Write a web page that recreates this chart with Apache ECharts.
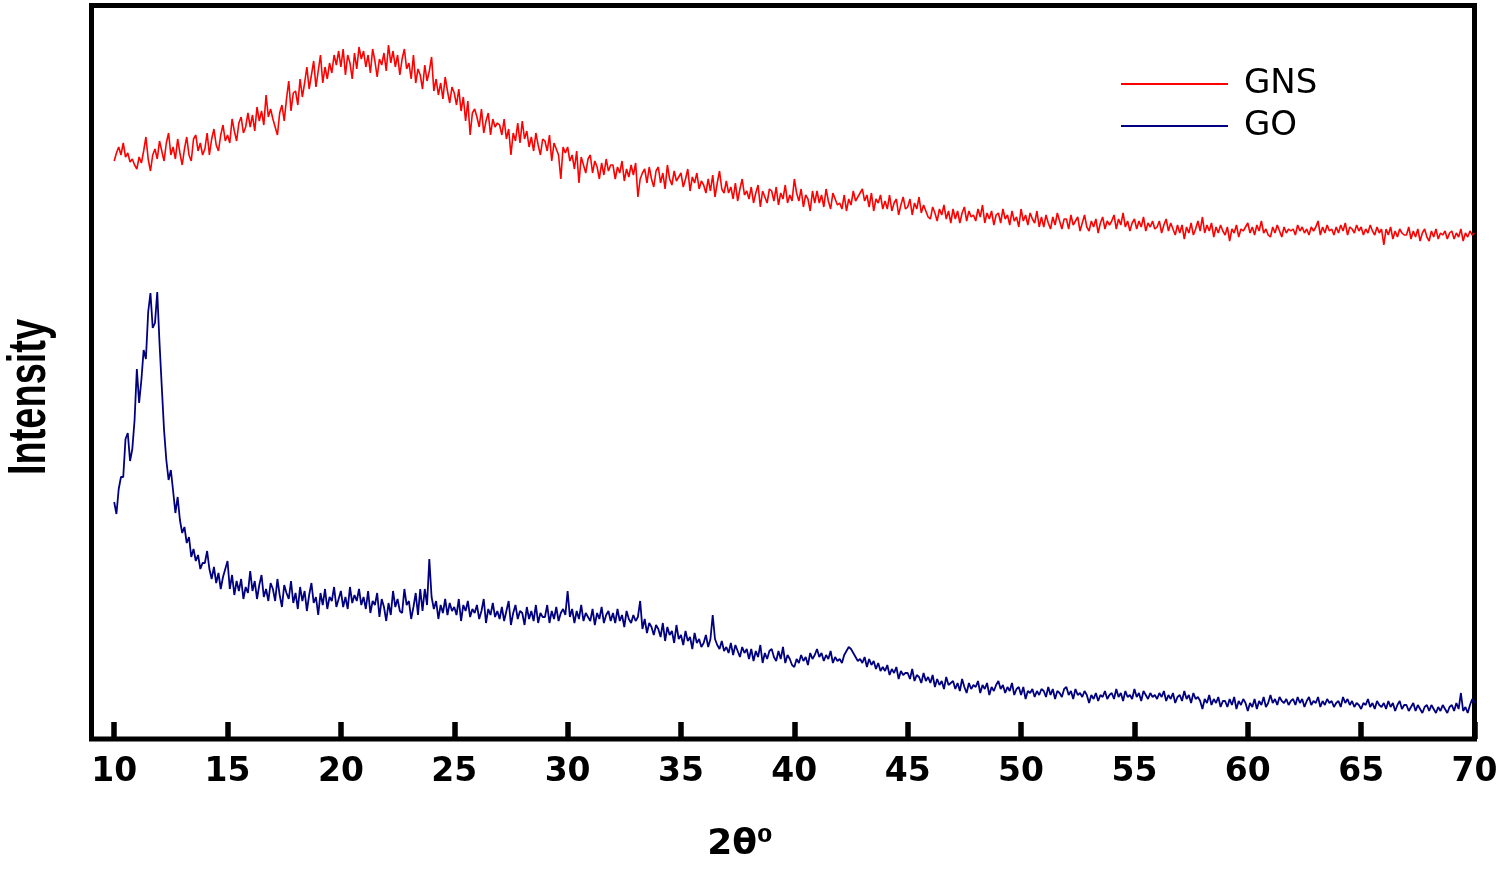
<!DOCTYPE html>
<html>
<head>
<meta charset="utf-8">
<script src="https://cdn.jsdelivr.net/npm/echarts@6/dist/echarts.min.js"></script>
<style>html,body{margin:0;padding:0;background:#fff;}#chart{width:1498px;height:870px;}</style>
</head>
<body>
<div id="chart"></div>
<script>
// 2θ scan grid (degrees), 0.1° step from 10 to 70
const scanStart = 10, scanStep = 0.1, scanCount = 601;
const xTicks = [10, 15, 20, 25, 30, 35, 40, 45, 50, 55, 60, 65, 70];
const seriesNames = ['GNS', 'GO'];

// GNS intensity (arbitrary units), one row per degree
const gnsIntensity = [
578,586,592,584,596,582,586,577,580,574,
570,582,576,588,602,580,568,584,590,580,
598,588,578,596,606,584,592,580,600,586,
574,590,602,584,578,600,604,588,596,584,
590,606,584,600,610,594,588,604,614,598,
604,596,620,608,598,616,622,606,612,626,
612,624,608,632,618,628,614,644,622,630,
620,612,604,626,634,618,640,658,628,646,
648,634,660,642,656,672,650,664,678,652,
668,684,656,672,660,676,666,684,674,688,
672,690,664,684,676,660,686,670,692,680,
688,672,684,666,690,678,662,680,674,686,
668,694,676,688,672,684,664,680,690,670,
676,660,684,656,670,664,650,674,658,668,
682,648,660,644,656,640,662,648,636,652,
646,634,650,628,642,618,638,604,626,630,
622,612,630,606,618,626,604,620,612,616,
614,604,620,600,610,584,606,598,616,596,
618,600,608,592,602,588,606,594,584,600,
598,588,604,578,596,590,584,560,592,586,
592,578,584,570,588,556,582,574,566,580,
584,566,578,572,560,576,564,580,568,574,
574,560,572,566,578,558,570,562,574,564,
576,542,560,566,570,556,572,560,552,568,
572,556,566,550,574,560,554,568,558,562,
566,552,560,570,548,562,556,566,550,558,
554,546,560,548,564,542,556,568,550,546,
558,546,552,540,556,538,550,560,544,548,
540,552,536,546,554,532,548,542,536,550,
548,538,552,534,546,540,554,536,544,538,
560,546,538,550,532,544,540,528,548,536,
548,536,544,532,550,538,530,546,540,534,
536,530,544,528,540,534,548,538,542,546,
550,538,544,532,546,528,540,536,544,530,
538,530,544,528,536,540,524,534,542,530,
532,540,524,536,530,542,526,534,528,522,
520,532,526,518,530,524,534,520,528,516,
530,520,528,516,526,532,518,528,522,524,
518,530,522,534,516,526,520,528,514,524,
526,516,530,520,524,514,528,518,522,512,
530,518,524,514,526,520,516,528,512,522,
512,524,516,510,522,514,526,518,510,520,
520,510,524,514,518,522,508,516,524,512,
508,518,512,520,506,516,522,510,518,514,
518,524,510,520,514,526,512,518,508,516,
520,510,518,512,522,508,516,512,518,510,
512,518,506,514,520,508,516,510,504,514,
506,514,500,512,506,516,504,510,518,508,
522,506,514,508,516,502,512,506,514,508,
504,512,498,510,506,514,502,510,508,512,
516,506,512,504,514,508,518,506,510,504,
502,512,506,514,508,502,512,506,510,508,
510,504,514,508,512,506,510,504,512,508,
512,518,504,512,506,514,508,510,504,512,
506,514,508,516,504,512,510,506,514,508,
512,504,510,506,514,508,504,512,506,510,
494,510,504,512,500,508,502,510,506,504,
504,512,500,508,502,510,498,506,510,502,
498,508,502,510,500,506,504,508,500,506,
508,500,506,502,510,498,506,502,508,504,
506
];

// GO intensity (arbitrary units), one row per degree
const goIntensity = [
237,225,250,262,262,300,306,278,290,319,
370,336,359,389,380,427,446,411,416,447,
396,352,309,279,259,269,248,226,242,219,
206,212,196,202,182,190,178,184,170,176,
176,188,170,160,172,156,166,150,162,170,
178,150,164,144,158,148,160,140,152,146,
168,148,158,140,154,164,142,150,138,156,
150,138,160,144,132,154,146,140,158,136,
146,130,152,138,148,128,144,156,136,142,
124,146,134,150,130,142,138,152,132,140,
148,132,142,130,152,136,144,138,150,134,
142,130,148,126,138,134,146,122,140,132,
118,136,124,148,132,140,128,126,150,134,
138,120,132,146,124,150,128,150,134,180,
142,130,138,120,134,126,140,124,136,128,
132,124,140,118,134,128,138,122,130,126,
134,120,128,140,116,130,124,136,122,128,
120,132,118,128,138,114,126,134,120,128,
126,114,132,120,128,118,134,116,126,122,
122,134,116,128,120,132,118,126,130,124,
148,122,130,116,128,120,134,118,126,122,
118,130,114,126,120,132,116,124,128,118,
126,116,130,118,124,112,128,120,116,124,
118,122,138,110,120,106,116,112,104,114,
110,102,116,98,112,104,108,96,114,100,
104,94,108,98,102,90,106,96,100,92,
96,104,92,100,124,100,94,90,98,88,
92,86,96,84,94,88,82,92,86,90,
80,90,78,88,82,94,76,86,80,88,
90,82,78,88,80,92,76,84,80,74,
72,80,76,84,78,82,74,86,80,84,
90,82,86,78,84,80,88,76,82,78,
80,76,84,88,92,90,86,82,78,80,
76,82,72,80,74,78,70,76,68,72,
68,74,64,70,66,72,60,68,64,66,
66,60,70,58,64,62,56,66,58,62,
56,64,52,60,54,58,50,62,54,56,
58,50,56,48,60,52,46,56,50,54,
52,58,46,54,50,56,44,52,48,54,
58,50,54,46,52,48,56,44,50,52,
44,52,40,48,46,50,42,48,44,50,
48,42,52,44,50,40,48,46,42,50,
52,44,48,40,50,44,46,42,48,44,
36,44,40,46,38,44,42,48,40,44,
46,40,50,42,46,38,48,42,44,40,
50,42,46,38,48,44,40,46,42,44,
40,46,42,48,38,44,40,46,36,42,
44,38,48,40,44,36,46,40,42,38,
30,40,36,44,34,40,36,42,32,38,
38,32,40,34,42,30,38,34,40,36,
28,36,32,40,30,38,34,42,32,36,
44,36,40,34,42,38,36,40,34,38,
40,34,42,36,40,32,38,42,34,38,
36,42,32,38,34,40,36,38,32,36,
38,32,42,36,40,34,38,32,36,34,
30,36,34,40,32,36,30,38,34,32,
36,30,38,32,36,28,34,38,30,34,
34,28,32,36,28,34,30,26,32,34,
28,34,30,26,32,28,34,30,26,32,
34,28,36,30,46,28,32,26,34,40,
36
];

const twoTheta = [];
for (let i = 0; i < scanCount; i++) twoTheta.push(+(scanStart + scanStep * i).toFixed(1));

function pairs(vals) {
  const out = [];
  for (let i = 0; i < Math.min(vals.length, twoTheta.length); i++) out.push([twoTheta[i], vals[i]]);
  return out;
}

const chart = echarts.init(document.getElementById('chart'), null, {renderer: 'canvas'});
chart.setOption({
  animation: false,
  backgroundColor: '#ffffff',
  grid: {
    left: 91.5, right: 23.5, top: 5.5, bottom: 131,
    show: true, borderWidth: 5, borderColor: '#000', backgroundColor: 'transparent',
    containLabel: false, outerBoundsMode: 'none'
  },
  legend: {
    orient: 'vertical',
    left: 1121, top: 67, padding: 0,
    itemWidth: 107, itemHeight: 2, itemGap: 8,
    icon: 'rect',
    data: seriesNames,
    textStyle: {fontFamily: 'DejaVu Sans', fontSize: 34, color: '#000', lineHeight: 34, padding: [0, 0, 0, 11]}
  },
  xAxis: {
    type: 'value', min: 9, max: 70,
    name: '2θ⁰', nameLocation: 'middle', nameGap: 88,
    nameTextStyle: {fontFamily: 'DejaVu Sans', fontWeight: 'bold', fontSize: 36, color: '#000', padding: [0, 86, 0, 0]},
    axisLine: {show: false},
    splitLine: {show: false},
    axisTick: {show: true, inside: true, length: 17, lineStyle: {width: 5.5, color: '#000'}, customValues: xTicks},
    axisLabel: {customValues: xTicks, margin: 17, fontFamily: 'DejaVu Sans', fontWeight: 'bold', fontSize: 33, color: '#000'}
  },
  yAxis: {
    type: 'value', min: 0, max: 733.5, show: false
  },
  graphic: [{
    type: 'text', x: 30, y: 397, rotation: Math.PI / 2, scaleX: 1, scaleY: 1.4,
    style: {text: 'Intensity', font: 'bold 38px "Liberation Sans"', fill: '#000', align: 'center', verticalAlign: 'middle'}
  }],
  series: [
    {name: 'GNS', type: 'line', data: pairs(gnsIntensity), showSymbol: false, symbol: 'none',
     lineStyle: {color: '#ff0000', width: 1.6}, itemStyle: {color: '#ff0000'}},
    {name: 'GO', type: 'line', data: pairs(goIntensity), showSymbol: false, symbol: 'none',
     lineStyle: {color: '#000080', width: 1.8}, itemStyle: {color: '#000080'}}
  ]
});
</script>
</body>
</html>
